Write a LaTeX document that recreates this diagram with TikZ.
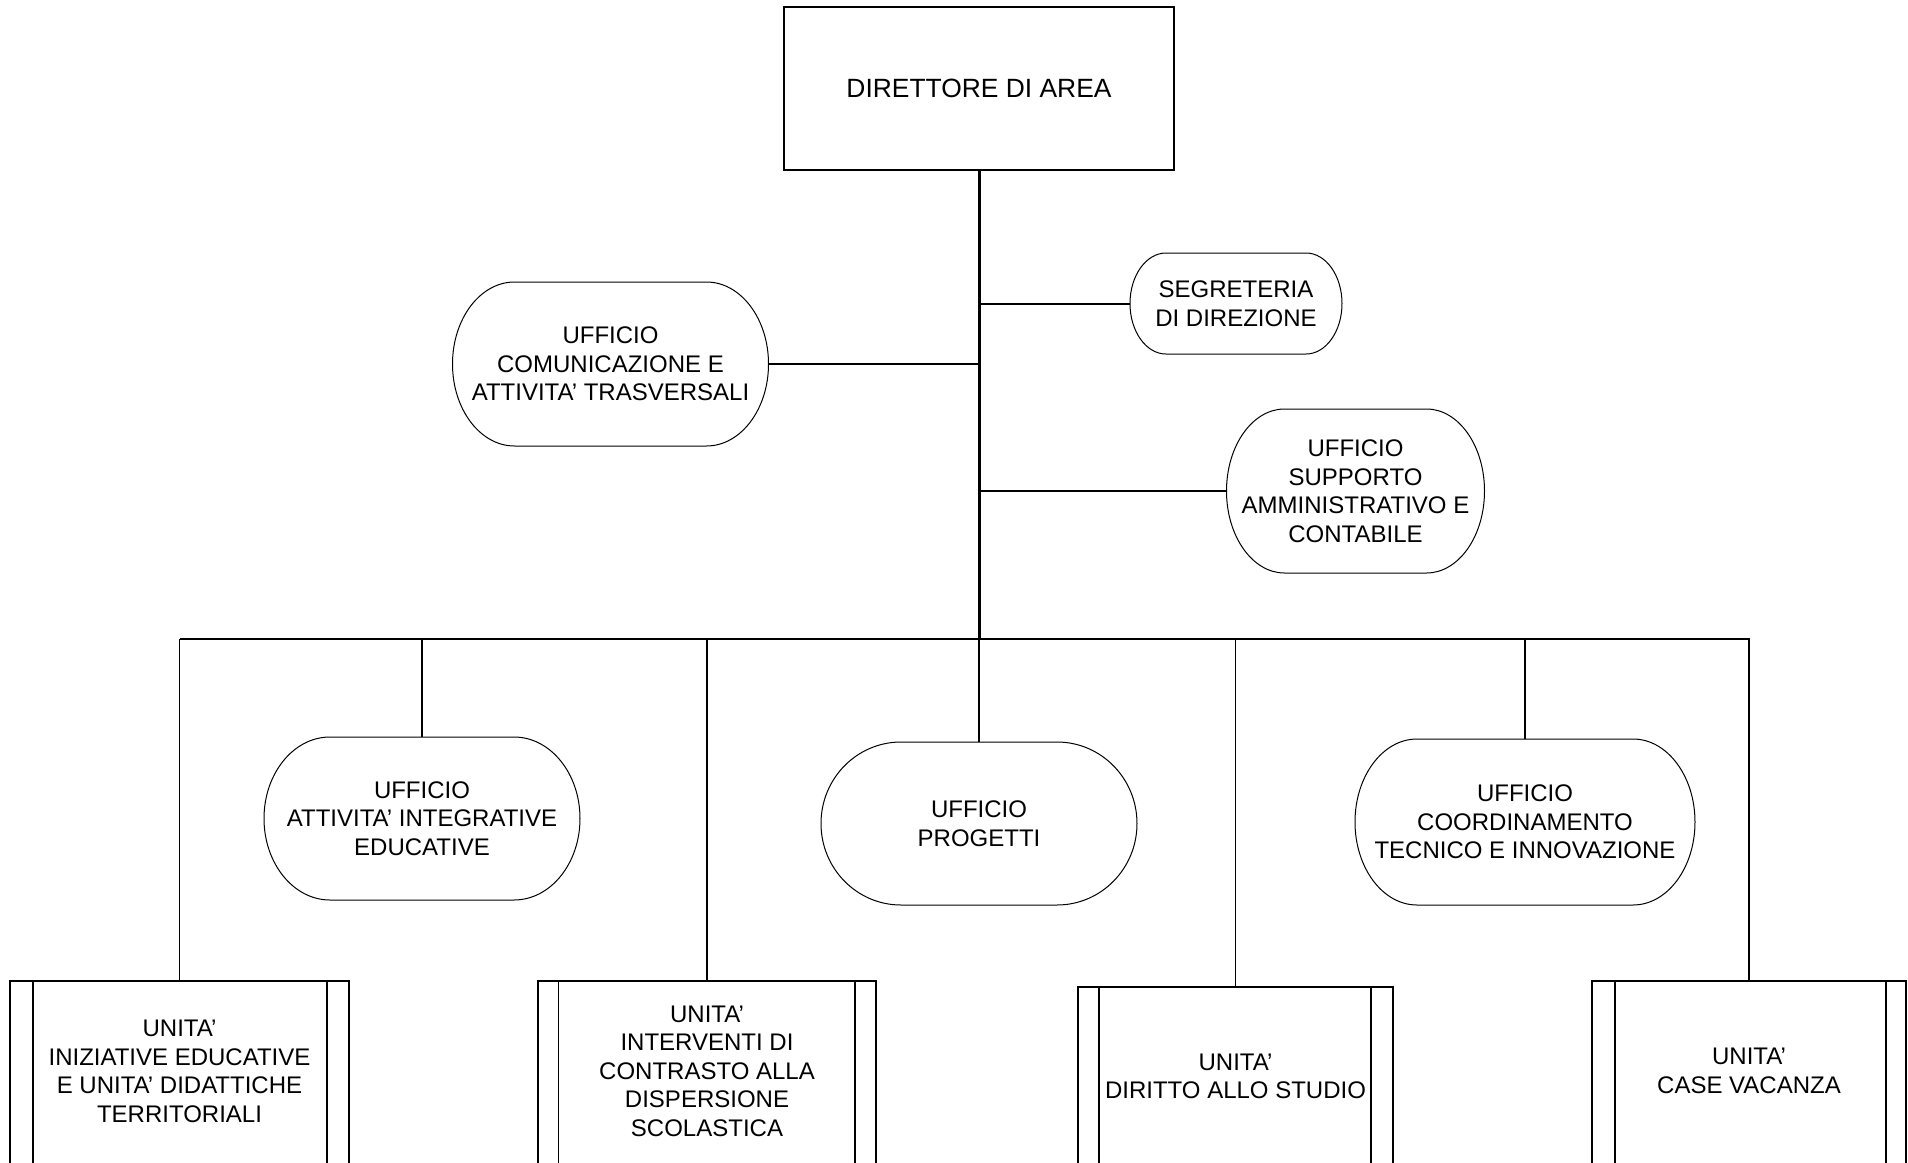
\documentclass[tikz,border=0pt]{standalone}
\usepackage{fontspec}
\setmainfont{Liberation Sans}
\usetikzlibrary{calc}
\tikzset{
  topbox/.style={draw, line width=0.6pt, inner sep=0pt, outer sep=0pt,
    font=\fontsize{13.2}{15.5}\selectfont},
  pillbox/.style={inner sep=0pt, outer sep=0pt, align=center,
    font=\fontsize{12}{14.25}\selectfont},
  pillline/.style={line width=0.5pt},
  unitbox/.style={draw, line width=0.7pt, inner sep=0pt, outer sep=0pt, anchor=north},
  unittext/.style={align=center, inner sep=0pt, font=\fontsize{12}{14.25}\selectfont},
  trunkline/.style={line width=1.5pt},
  conn/.style={line width=1pt},
  thinline/.style={line width=0.7pt},
}
% name, cx, cy, w, h, rx, text
\newcommand\pillnode[7]{%
  \node[pillbox, minimum width=#4*0.5pt, minimum height=#5*0.5pt] (#1) at (#2,#3) {#7};
  \draw[pillline] ($(#1.north west)+(#6,0)$) -- ($(#1.north east)+(-#6,0)$)
    .. controls ($(#1.north east)+(-0.4477*#6,0)$) and ($(#1.east)+(0,-0.5523*#5/2)$) .. (#1.east)
    .. controls ($(#1.east)+(0,0.5523*#5/2)$) and ($(#1.south east)+(-0.4477*#6,0)$) .. ($(#1.south east)+(-#6,0)$)
    -- ($(#1.south west)+(#6,0)$)
    .. controls ($(#1.south west)+(0.4477*#6,0)$) and ($(#1.west)+(0,0.5523*#5/2)$) .. (#1.west)
    .. controls ($(#1.west)+(0,-0.5523*#5/2)$) and ($(#1.north west)+(0.4477*#6,0)$) .. cycle;
}
% name, cx, top, w, left inner offset, right inner offset
\newcommand\unitnode[6]{%
  \node[unitbox, minimum width=#4*0.5pt, minimum height=260*0.5pt] (#1) at (#2,#3) {};
  \draw[thinline] ($(#1.north west)+(#5,0)$) -- ($(#1.south west)+(#5,0)$);
  \draw[thinline] ($(#1.north east)+(-#6,0)$) -- ($(#1.south east)+(-#6,0)$);
}
\begin{document}
\begin{tikzpicture}[x=0.5pt,y=-0.5pt]
\useasboundingbox (0,0) rectangle (1908,1163);
\clip (0,0) rectangle (1908,1163);
\fill[white] (0,0) rectangle (1908,1163);

% top box
\node[topbox, minimum width=390*0.5pt, minimum height=163*0.5pt] (dir) at (979,88.5) {DIRETTORE DI AREA};

% staff offices
\pillnode{comm}{610.5}{364}{316}{164}{62}{UFFICIO\\COMUNICAZIONE E\\ATTIVITA’ TRASVERSALI}
\pillnode{segr}{1236}{303.5}{212}{101}{36}{SEGRETERIA\\DI DIREZIONE}
\pillnode{supp}{1355.5}{491}{258}{164}{58}{UFFICIO\\SUPPORTO\\AMMINISTRATIVO E\\CONTABILE}

% bus
\coordinate (busL) at (180,639);
\coordinate (busR) at (1750,639);
\coordinate (busC) at (979,639);

% second row offices
\pillnode{attiv}{422}{818.5}{316}{163}{66}{UFFICIO\\ATTIVITA’ INTEGRATIVE\\EDUCATIVE}
\pillnode{prog}{979}{823.5}{316}{163}{80}{UFFICIO\\PROGETTI}
\pillnode{coord}{1525}{822}{340}{166}{62}{UFFICIO\\COORDINAMENTO\\TECNICO E INNOVAZIONE}

% units
\unitnode{iniz}{179.5}{981}{339}{23}{22}
\unitnode{interv}{707}{981}{338}{20.5}{21}
\unitnode{dir2}{1235.5}{987}{315}{21}{22}
\unitnode{case}{1749}{981}{314}{23}{20}
\node[unittext] (iniz-t) at (179.5,1071.5) {UNITA’\\INIZIATIVE EDUCATIVE\\E UNITA’ DIDATTICHE\\TERRITORIALI};
\node[unittext] (interv-t) at (707,1071) {UNITA’\\INTERVENTI DI\\CONTRASTO ALLA\\DISPERSIONE\\SCOLASTICA};
\node[unittext] (dir2-t) at (1235.5,1076.5) {UNITA’\\DIRITTO ALLO STUDIO};
\node[unittext] (case-t) at (1749,1071) {UNITA’\\CASE VACANZA};

% connectors
\draw[trunkline] (dir.south) -- (busC);
\draw[conn] (busL) -- (busR);
\draw[conn] (comm.east) -- (comm.east -| busC);
\draw[conn] (segr.west -| busC) -- (segr.west);
\draw[conn] (supp.west -| busC) -- (supp.west);
\draw[thinline] (attiv.north |- busL) -- (attiv.north);
\draw[thinline] (prog.north |- busL) -- (prog.north);
\draw[thinline] (coord.north |- busL) -- (coord.north);
\draw[thinline] (iniz.north |- busL) -- (iniz.north);
\draw[thinline] (interv.north |- busL) -- (interv.north);
\draw[thinline] (dir2.north |- busL) -- (dir2.north);
\draw[thinline] (case.north |- busL) -- (case.north);
\end{tikzpicture}
\end{document}
